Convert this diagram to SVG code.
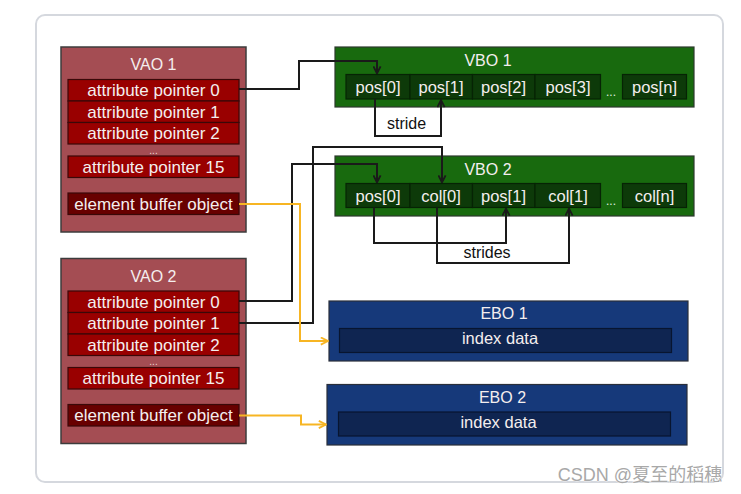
<svg xmlns="http://www.w3.org/2000/svg" width="741" height="494" viewBox="0 0 741 494">
<defs>
<style>
text{font-family:"Liberation Sans","Noto Sans",sans-serif;font-size:16px;fill:#f4eeee;text-anchor:middle}
.rt{font-size:17px}
.ct{font-size:16.5px}
.vao{fill:#a44d53;stroke:#3c3c3c;stroke-width:1.5}
.row{fill:#990000;stroke:#3a0808;stroke-width:1.2}
.erow{fill:#680000;stroke:#3a0808;stroke-width:1.2}
.vbo{fill:#186a0e;stroke:#2d3a2d;stroke-width:1.2}
.cell{fill:#0d3a09;stroke:#062304;stroke-width:1.2}
.ebo{fill:#16397a;stroke:#2a2f3a;stroke-width:1.2}
.inner{fill:#0f2551;stroke:#081530;stroke-width:1.2}
.blk{fill:none;stroke:#1a1a1a;stroke-width:2}
.yel{fill:none;stroke:#f7b523;stroke-width:2}
.dots{fill:#ecd6d6;font-size:10px}
</style>
<marker id="ab" viewBox="0 0 10 10" refX="9" refY="5" markerWidth="9" markerHeight="9" markerUnits="userSpaceOnUse" orient="auto">
<path d="M1,1 L9,5 L1,9" fill="none" stroke="#1a1a1a" stroke-width="2"/>
</marker>
<marker id="ay" viewBox="0 0 10 10" refX="9" refY="5" markerWidth="9" markerHeight="9" markerUnits="userSpaceOnUse" orient="auto">
<path d="M1,1 L9,5 L1,9" fill="none" stroke="#f7b523" stroke-width="2"/>
</marker>
</defs>
<rect x="36" y="15" width="687" height="467" rx="9" fill="#ffffff" stroke="#d5d8de" stroke-width="2"/>

<g id="vao1">
<rect class="vao" x="61" y="47" width="185" height="185"/>
<text x="153.5" y="70">VAO 1</text>
<rect class="row" x="68" y="79.5" width="171" height="21.5"/><text class="rt" x="153.5" y="96">attribute pointer 0</text>
<rect class="row" x="68" y="101" width="171" height="21.5"/><text class="rt" x="153.5" y="117.5">attribute pointer 1</text>
<rect class="row" x="68" y="122.5" width="171" height="21.5"/><text class="rt" x="153.5" y="139">attribute pointer 2</text>
<text class="dots" x="153.5" y="153.5">...</text>
<rect class="row" x="68" y="156" width="171" height="21.5"/><text class="rt" x="153.5" y="172.5">attribute pointer 15</text>
<rect class="erow" x="68" y="193" width="171" height="21.5"/><text class="rt" x="153.5" y="209.5">element buffer object</text>
</g>

<g id="vao2">
<rect class="vao" x="61" y="258.5" width="185" height="185"/>
<text x="153.5" y="281.5">VAO 2</text>
<rect class="row" x="68" y="291" width="171" height="21.5"/><text class="rt" x="153.5" y="307.5">attribute pointer 0</text>
<rect class="row" x="68" y="312.5" width="171" height="21.5"/><text class="rt" x="153.5" y="329">attribute pointer 1</text>
<rect class="row" x="68" y="334" width="171" height="21.5"/><text class="rt" x="153.5" y="350.5">attribute pointer 2</text>
<text class="dots" x="153.5" y="365">...</text>
<rect class="row" x="68" y="367.5" width="171" height="21.5"/><text class="rt" x="153.5" y="384">attribute pointer 15</text>
<rect class="erow" x="68" y="404.5" width="171" height="21.5"/><text class="rt" x="153.5" y="421">element buffer object</text>
</g>

<g id="vbo1">
<rect class="vbo" x="335" y="47" width="359" height="60"/>
<text x="488" y="66">VBO 1</text>
<rect class="cell" x="346" y="74.5" width="64" height="24.5"/><text class="ct" x="378" y="92.5">pos[0]</text>
<rect class="cell" x="410" y="74.5" width="62.5" height="24.5"/><text class="ct" x="441" y="92.5">pos[1]</text>
<rect class="cell" x="472.5" y="74.5" width="62.5" height="24.5"/><text class="ct" x="503.5" y="92.5">pos[2]</text>
<rect class="cell" x="535" y="74.5" width="65.5" height="24.5"/><text class="ct" x="568" y="92.5">pos[3]</text>
<text class="dots" x="611" y="96" style="fill:#e0f0e0;font-size:12px">...</text>
<rect class="cell" x="622.5" y="74.5" width="64" height="24.5"/><text class="ct" x="654.5" y="92.5">pos[n]</text>
</g>

<g id="vbo2">
<rect class="vbo" x="335" y="156" width="359" height="60"/>
<text x="488" y="175">VBO 2</text>
<rect class="cell" x="346" y="183.5" width="64" height="24"/><text class="ct" x="378" y="201.5">pos[0]</text>
<rect class="cell" x="410" y="183.5" width="62.5" height="24"/><text class="ct" x="441" y="201.5">col[0]</text>
<rect class="cell" x="472.5" y="183.5" width="62.5" height="24"/><text class="ct" x="503.5" y="201.5">pos[1]</text>
<rect class="cell" x="535" y="183.5" width="65.5" height="24"/><text class="ct" x="568" y="201.5">col[1]</text>
<text class="dots" x="611" y="205" style="fill:#e0f0e0;font-size:12px">...</text>
<rect class="cell" x="622.5" y="183.5" width="64" height="24"/><text class="ct" x="654.5" y="201.5">col[n]</text>
</g>

<g id="ebo1">
<rect class="ebo" x="329" y="301" width="359" height="60"/>
<text x="504" y="319">EBO 1</text>
<rect class="inner" x="339.5" y="328.5" width="332" height="24"/>
<text class="ct" x="500" y="344">index data</text>
</g>

<g id="ebo2">
<rect class="ebo" x="327" y="384.5" width="360" height="60.5"/>
<text x="502.5" y="403">EBO 2</text>
<rect class="inner" x="338.5" y="412" width="332" height="24"/>
<text class="ct" x="498.5" y="428">index data</text>
</g>

<g id="connectors">
<path class="blk" d="M239,89 H299 V61 H377 V73.5" marker-end="url(#ab)"/>
<path class="blk" d="M375,99 V136 H441 V100" marker-end="url(#ab)"/>
<path class="blk" d="M239,301 H292 V164 H377 V182.5" marker-end="url(#ab)"/>
<path class="blk" d="M239,323 H313 V147 H442 V182.5" marker-end="url(#ab)"/>
<path class="blk" d="M374,207.5 V243 H506 V208.5" marker-end="url(#ab)"/>
<path class="blk" d="M437,207.5 V263 H569 V208.5" marker-end="url(#ab)"/>
<path class="yel" d="M239,204 H300 V341 H328" marker-end="url(#ay)"/>
<path class="yel" d="M239,415.5 H301 V424.5 H326" marker-end="url(#ay)"/>
<text x="406.5" y="129" style="fill:#111">stride</text>
<text x="487" y="258" style="fill:#111">strides</text>
</g>

<text x="640" y="481" style="font-family:'Liberation Sans','Noto Sans CJK SC',sans-serif;font-size:18px;fill:#a8a8a8;stroke:#ffffff;stroke-width:0.6;paint-order:stroke">CSDN @夏至的稻穗</text>
</svg>
